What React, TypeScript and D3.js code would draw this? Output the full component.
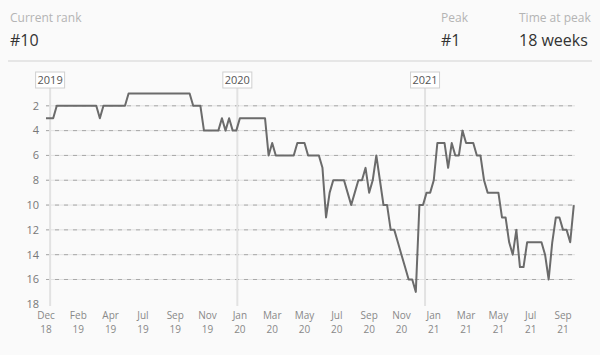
import React from "react";
import * as d3 from "d3";

// Weekly chart rank, starting week of 24 Dec 2018
const startDate = new Date(2018, 11, 24);
const ranks: number[] = [
  3, 3, 3, 2, 2, 2, 2, 2, 2, 2, 2, 2, 2, 2, 2, 3, 2, 2, 2, 2,
  2, 2, 2, 1, 1, 1, 1, 1, 1, 1, 1, 1, 1, 1, 1, 1, 1, 1, 1, 1,
  1, 2, 2, 2, 4, 4, 4, 4, 4, 3, 4, 3, 4, 4, 3, 3, 3, 3, 3, 3,
  3, 3, 6, 5, 6, 6, 6, 6, 6, 6, 5, 5, 5, 6, 6, 6, 6, 7, 11, 9,
  8, 8, 8, 8, 9, 10, 9, 8, 8, 7, 9, 8, 6, 8, 10, 10, 12, 12, 13, 14,
  15, 16, 16, 17, 10, 10, 9, 9, 8, 5, 5, 5, 7, 5, 6, 6, 4, 5, 5, 5,
  6, 6, 8, 9, 9, 9, 9, 11, 11, 13, 14, 12, 15, 15, 13, 13, 13, 13, 13, 14,
  16, 13, 11, 11, 12, 12, 13, 10,
];
const yTicks: number[] = [2, 4, 6, 8, 10, 12, 14, 16, 18];
const gridTicks: number[] = [2, 4, 6, 8, 10, 12, 14, 16];
const yearMarks: number[] = [2019, 2020, 2021];
const tickStepDays = 63;
const tickCount = 17;

const statLabels: string[] = ["Current rank", "Peak", "Time at peak"];
const statValues: string[] = ["#10", "#1", "18 weeks"];

const W = 600;
const H = 355;
const FONT = "'Open Sans', 'Noto Sans', sans-serif";

export default function App() {
  const dates = ranks.map((_, i) => d3.timeDay.offset(startDate, 7 * i));
  const x = d3
    .scaleTime()
    .domain([dates[0], dates[dates.length - 1]])
    .range([46, 573.8]);
  const y = d3.scaleLinear().domain([0, 18]).range([81, 304.3]);
  const line = d3
    .line<number>()
    .x((_, i) => x(dates[i]))
    .y((d) => y(d));
  const tickDates = d3.range(tickCount).map((i) => d3.timeDay.offset(startDate, tickStepDays * i));
  const fMon = d3.timeFormat("%b");
  const fYr = d3.timeFormat("%y");
  const statX = [10, 441, 519];

  return (
    <svg
      width={W}
      height={H}
      style={{ position: "absolute", left: 0, top: 0, background: "#fafafa", fontFamily: FONT }}
    >
      {statLabels.map((s, i) => (
        <g key={s} transform={`translate(${statX[i]},0)`}>
          <text y={22} fontSize={12} fill="#b4b4b4">{s}</text>
          <text y={46} fontSize={16} fill="#333">{statValues[i]}</text>
        </g>
      ))}
      <line x1={8} x2={592} y1={61} y2={61} stroke="#e6e6e6" strokeWidth={2} />

      {gridTicks.map((t) => (
        <g key={t}>
          <line x1={46} x2={575} y1={y(t)} y2={y(t)} stroke="#e2e2e2" strokeWidth={1} />
          <line x1={46} x2={575} y1={y(t)} y2={y(t)} stroke="#a8a8a8" strokeWidth={1} strokeDasharray="4 5" />
        </g>
      ))}
      {yTicks.map((t) => (
        <text key={t} x={39} y={y(t)} dy="0.35em" textAnchor="end" fontSize={11} fill="#777">
          {t}
        </text>
      ))}

      {yearMarks.map((yr) => {
        const xx = x(new Date(yr, 0, 1));
        return <line key={yr} x1={xx} x2={xx} y1={80} y2={306} stroke="#e2e2e2" strokeWidth={2} />;
      })}

      <path d={line(ranks) || ""} fill="none" stroke="#6b6b6b" strokeWidth={2} strokeLinejoin="round" />

      {yearMarks.map((yr) => {
        const xx = x(new Date(yr, 0, 1));
        return (
          <g key={"l" + yr} transform={`translate(${xx},80)`}>
            <rect x={-14.5} y={-8} width={29} height={16} fill="#fff" stroke="#d0d0d0" strokeWidth={1} />
            <text y={0} dy="0.35em" textAnchor="middle" fontSize={11} fill="#555">
              {yr}
            </text>
          </g>
        );
      })}

      {tickDates.map((d, i) => (
        <g key={i}>
          <text x={x(d)} y={319} textAnchor="middle" fontSize={10} fill="#888">{fMon(d)}</text>
          <text x={x(d)} y={333} textAnchor="middle" fontSize={10} fill="#888">{fYr(d)}</text>
        </g>
      ))}
    </svg>
  );
}
